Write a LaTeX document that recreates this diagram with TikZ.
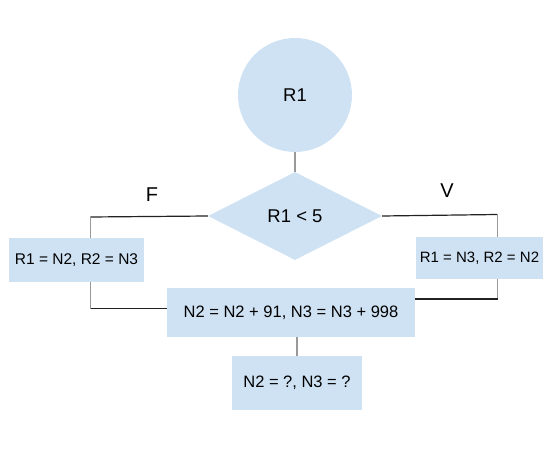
\documentclass[tikz,border=0pt]{standalone}
\usepackage{fontspec}
\setmainfont{Liberation Sans}
\usetikzlibrary{shapes.geometric}
\definecolor{boxblue}{HTML}{CFE2F3}
\definecolor{vline}{HTML}{999999}
\definecolor{hline}{HTML}{222222}
\begin{document}
\begin{tikzpicture}[x=1pt,y=-1pt,
  every node/.style={font=\fontsize{15.5}{18}\selectfont},
  bigtext/.style={font=\fontsize{18.5}{22}\selectfont},
  midtext/.style={font=\fontsize{16.5}{20}\selectfont},
  boxnode/.style={fill=boxblue,draw=none,inner sep=0pt,minimum width=#1},
  vl/.style={draw=vline,line width=1.2pt},
  hl/.style={draw=hline,line width=1.2pt}]
\useasboundingbox (0,0) rectangle (557,449);
\node[circle,fill=boxblue,minimum size=114pt,inner sep=0pt,bigtext] (r1) at (295,95) {R1};
\node[diamond,fill=boxblue,minimum width=174pt,minimum height=88pt,inner sep=0pt,bigtext] (cond) at (295,216) {R1 < 5};
\node[boxnode=135pt,minimum height=44pt] (left) at (76.5,260) {R1 = N2, R2 = N3};
\node[boxnode=127pt,minimum height=42pt,font=\fontsize{15}{18}\selectfont] (right) at (479.5,258) {R1 = N3, R2 = N2};
\node[boxnode=248pt,minimum height=49pt,midtext] (upd) at (291,312.5) {N2 = N2 + 91, N3 = N3 + 998};
\node[boxnode=130pt,minimum height=54pt,midtext] (res) at (297,383) {N2 = ?, N3 = ?};
\node[font=\fontsize{20}{24}\selectfont] (f) at (152,195) {F};
\node[font=\fontsize{20}{24}\selectfont] (v) at (447,191) {V};
\coordinate (lt) at (90.5,217);
\coordinate (lb) at (90.5,308.5);
\coordinate (rt) at (497.5,214.5);
\coordinate (rb) at (497.5,299);
\draw[vl] (r1.south) -- (cond.north);
\draw[hl] (cond.west) -- (lt);
\draw[vl] (lt) -- (lt |- left.north);
\draw[vl] (lb |- left.south) -- (lb);
\draw[hl] (lb) -- (lb -| upd.west);
\draw[hl] (cond.east) -- (rt);
\draw[vl] (rt) -- (rt |- right.north);
\draw[vl] (rb |- right.south) -- (rb);
\draw[hl] (rb) -- (rb -| upd.east);
\draw[vl] (upd.south -| res.north) -- (res.north);
\end{tikzpicture}
\end{document}
